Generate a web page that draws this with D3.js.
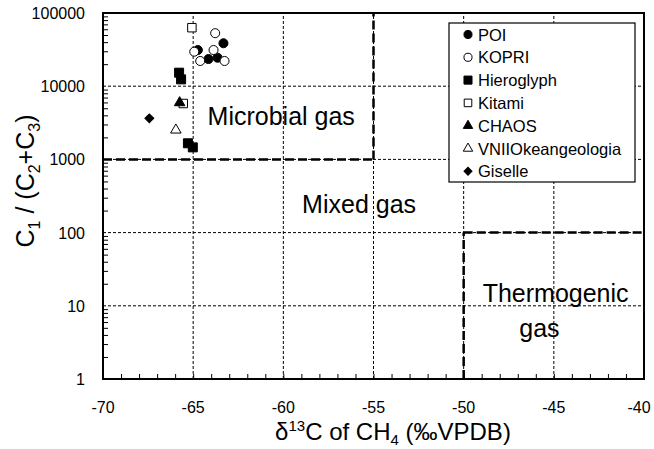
<!DOCTYPE html>
<html>
<head>
<meta charset="utf-8">
<script src="https://cdn.jsdelivr.net/npm/d3@7"></script>
<style>
  body { margin: 0; background: #fff; }
  text { font-family: "Liberation Sans", Arial, sans-serif; fill: #000; }
</style>
</head>
<body>
<svg id="chart" width="654" height="449"></svg>
<script>
const w = 654;
const h = 449;
const margin = {top: 13, right: 10, bottom: 70, left: 103};

// axis ticks
const xTicks = [-70, -65, -60, -55, -50, -45, -40];
const yTicks = [1, 10, 100, 1000, 10000, 100000];

// d13C (x) and C1/(C2+C3) (y) per site
const poiX = [-63.32, -64.74, -64.15, -63.65];
const poiY = [38600, 31200, 23500, 24500];
const kopriX = [-63.78, -64.94, -63.87, -64.61, -63.26];
const kopriY = [53000, 29600, 31200, 22100, 22100];
const hieroX = [-65.78, -65.67, -65.29, -65.02];
const hieroY = [15300, 12400, 1660, 1460];
const kitamiX = [-65.07, -65.55];
const kitamiY = [63000, 5800];
const chaosX = [-65.75];
const chaosY = [5950];
const vniiX = [-65.96];
const vniiY = [2520];
const giselleX = [-67.43];
const giselleY = [3640];

const series = [
  {name: "POI", x: poiX, y: poiY, sym: d3.symbolCircle, size: 64, fill: "#000", rot: 0},
  {name: "KOPRI", x: kopriX, y: kopriY, sym: d3.symbolCircle, size: 64, fill: "#fff", rot: 0},
  {name: "Hieroglyph", x: hieroX, y: hieroY, sym: d3.symbolSquare, size: 81, fill: "#000", rot: 0},
  {name: "Kitami", x: kitamiX, y: kitamiY, sym: d3.symbolSquare, size: 72, fill: "#fff", rot: 0},
  {name: "CHAOS", x: chaosX, y: chaosY, sym: d3.symbolTriangle, size: 48, fill: "#000", rot: 0},
  {name: "VNIIOkeangeologia", x: vniiX, y: vniiY, sym: d3.symbolTriangle, size: 48, fill: "#fff", rot: 0},
  {name: "Giselle", x: giselleX, y: giselleY, sym: d3.symbolSquare, size: 40, fill: "#000", rot: 45}
];

// region labels [text, x, y, anchor]
const regionLabels = [
  ["Microbial gas", -64.2, 2950, "start"],
  ["Mixed gas", -55.8, 185, "middle"],
  ["Thermogenic", -44.9, 11.3, "middle"],
  ["gas", -45.8, 3.75, "middle"]
];

const svg = d3.select("#chart");
const pw = w - margin.left - margin.right;
const ph = h - margin.top - margin.bottom;

const x = d3.scaleLinear().domain([-70, -40]).range([margin.left, margin.left + pw]);
const y = d3.scaleLog().domain([1, 100000]).range([margin.top + ph, margin.top]);

// dotted grid
svg.append("g").selectAll("line")
  .data(xTicks.slice(1, -1))
  .enter().append("line")
  .attr("x1", d => x(d)).attr("x2", d => x(d))
  .attr("y1", y(1)).attr("y2", y(100000))
  .attr("stroke", "#000").attr("stroke-width", 1).attr("stroke-dasharray", "3,2");
svg.append("g").selectAll("line")
  .data(yTicks.slice(1, -1))
  .enter().append("line")
  .attr("x1", x(-70)).attr("x2", x(-40))
  .attr("y1", d => y(d)).attr("y2", d => y(d))
  .attr("stroke", "#000").attr("stroke-width", 1).attr("stroke-dasharray", "3,2");

// boundary lines between gas types
const bounds = [
  [[-70, 1000], [-55, 1000]],
  [[-55, 1000], [-55, 100000]],
  [[-50, 100], [-40, 100]],
  [[-50, 1], [-50, 100]]
];
svg.append("g").selectAll("line")
  .data(bounds)
  .enter().append("line")
  .attr("x1", d => x(d[0][0])).attr("y1", d => y(d[0][1]))
  .attr("x2", d => x(d[1][0])).attr("y2", d => y(d[1][1]))
  .attr("stroke", "#000").attr("stroke-width", 2.5).attr("stroke-dasharray", "9,4");

// axes
const xAxis = d3.axisBottom(x).tickValues(d3.range(-70, -39, 1)).tickSize(-5).tickFormat("");
svg.append("g").attr("transform", `translate(0,${y(1)})`).call(xAxis)
  .call(g => g.select(".domain").remove())
  .call(g => g.selectAll("line").attr("stroke-width", 1));
svg.append("g").selectAll("text")
  .data(xTicks)
  .enter().append("text")
  .attr("x", d => Math.min(x(d), w - 15)).attr("y", y(1) + 34)
  .attr("text-anchor", "middle").style("font-size", "16px")
  .text(d => d);

const minorY = [];
for (let p = 1; p < 100000; p *= 10) for (let k = 2; k < 10; k++) minorY.push(p * k);
const yAxis = d3.axisLeft(y).tickValues(minorY).tickSize(-5).tickFormat("");
svg.append("g").attr("transform", `translate(${x(-70)},0)`).call(yAxis)
  .call(g => g.select(".domain").remove());
svg.append("g").selectAll("text")
  .data(yTicks)
  .enter().append("text")
  .attr("x", x(-70) - 18).attr("y", d => y(d) + 6)
  .attr("text-anchor", "end").style("font-size", "16px")
  .text(d => d);

// frame
svg.append("rect")
  .attr("x", x(-70)).attr("y", y(100000))
  .attr("width", pw).attr("height", ph)
  .attr("fill", "none").attr("stroke", "#000").attr("stroke-width", 2);

// region labels
svg.append("g").selectAll("text")
  .data(regionLabels)
  .enter().append("text")
  .attr("x", d => x(d[1])).attr("y", d => y(d[2]))
  .attr("text-anchor", d => d[3]).style("font-size", "25px")
  .text(d => d[0]);

// points
series.forEach(s => {
  svg.append("g").selectAll("path")
    .data(s.x.map((v, i) => [v, s.y[i]]))
    .enter().append("path")
    .attr("transform", d => `translate(${x(d[0])},${y(d[1])}) rotate(${s.rot})`)
    .attr("d", d3.symbol().type(s.sym).size(s.size))
    .attr("fill", s.fill).attr("stroke", "#000").attr("stroke-width", 1);
});

// legend
const legend = svg.append("g").attr("transform", "translate(449,23)");
legend.append("rect")
  .attr("width", 186).attr("height", 159)
  .attr("fill", "#fff").attr("stroke", "#000").attr("stroke-width", 1.2);
series.forEach((s, i) => {
  const ly = 11.5 + i * 22.8;
  legend.append("path")
    .attr("transform", `translate(19,${ly}) rotate(${s.rot})`)
    .attr("d", d3.symbol().type(s.sym).size(s.size * 0.8))
    .attr("fill", s.fill).attr("stroke", "#000").attr("stroke-width", 1);
  legend.append("text")
    .attr("x", 29).attr("y", ly + 6)
    .style("font-size", "16.5px")
    .text(s.name);
});

// axis titles
svg.append("text")
  .attr("x", 393).attr("y", 440)
  .attr("text-anchor", "middle").style("font-size", "24px")
  .html('δ<tspan dy="-9" font-size="15px">13</tspan><tspan dy="9">C of CH</tspan><tspan dy="5" font-size="15px">4</tspan><tspan dy="-5"> (‰VPDB)</tspan>');

svg.append("text")
  .attr("transform", "translate(34,181) rotate(-90)")
  .attr("text-anchor", "middle").style("font-size", "25px")
  .html('C<tspan dy="6" font-size="16px">1</tspan><tspan dy="-6"> / (C</tspan><tspan dy="6" font-size="16px">2</tspan><tspan dy="-6">+C</tspan><tspan dy="6" font-size="16px">3</tspan><tspan dy="-6">)</tspan>');
</script>
</body>
</html>
